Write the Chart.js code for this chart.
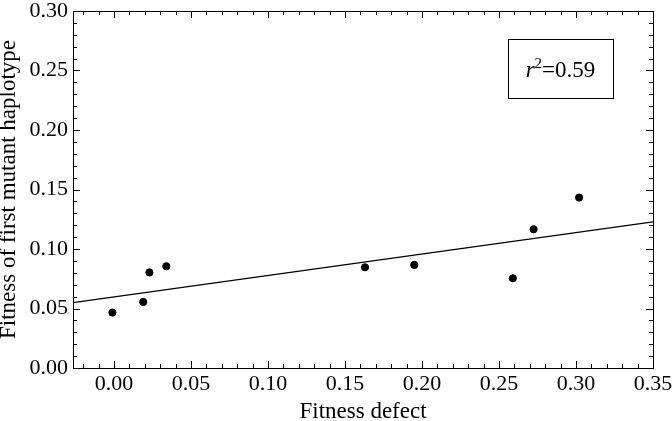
<!DOCTYPE html>
<html>
<head>
<meta charset="utf-8">
<script src="https://cdn.jsdelivr.net/npm/chart.js@4.4.1/dist/chart.umd.min.js"></script>
<style>
  body { margin: 0; background: #fff; }
</style>
</head>
<body>
<canvas id="myChart" width="672" height="421"></canvas>
<script>
// data
const defectX = [-0.001, 0.019, 0.023, 0.034, 0.163, 0.195, 0.259, 0.2725, 0.302];
const fitnessY = [0.0466, 0.0555, 0.0803, 0.0855, 0.0846, 0.0866, 0.0754, 0.1166, 0.1432];
const fitLineX = [-0.0266, 0.35];
const fitLineY = [0.055, 0.1228];
const rSquared = '0.59';

const points = defectX.map((x, i) => ({ x: x, y: fitnessY[i] }));
const linePts = fitLineX.map((x, i) => ({ x: x, y: fitLineY[i] }));

const serif = "'Liberation Serif', 'Times New Roman', serif";

function minorTicks(from, to) {
    const t = [];
    for (let i = from; i <= to; i++) t.push({ value: i / 100 });
    return t;
}

// frame with inward ticks on all four sides + the r^2 box
const framePlugin = {
    id: 'frame',
    afterDraw(chart) {
        const ctx = chart.ctx;
        const a = chart.chartArea;
        const xs = chart.scales.x, ys = chart.scales.y;
        ctx.save();
        ctx.strokeStyle = '#000';
        ctx.lineWidth = 1;
        ctx.strokeRect(a.left + 0.5, a.top + 0.5, a.right - a.left, a.bottom - a.top);
        ctx.beginPath();
        xs.ticks.forEach(t => {
            const px = Math.round(xs.getPixelForValue(t.value)) + 0.5;
            if (px < a.left + 1 || px > a.right - 1) return;
            const len = Math.round(t.value * 100) % 5 === 0 ? 7 : 4;
            ctx.moveTo(px, a.bottom); ctx.lineTo(px, a.bottom - len);
            ctx.moveTo(px, a.top); ctx.lineTo(px, a.top + len);
        });
        ys.ticks.forEach(t => {
            const py = Math.round(ys.getPixelForValue(t.value)) + 0.5;
            if (py < a.top + 1 || py > a.bottom - 1) return;
            const len = Math.round(t.value * 100) % 5 === 0 ? 7 : 4;
            ctx.moveTo(a.left, py); ctx.lineTo(a.left + len, py);
            ctx.moveTo(a.right, py); ctx.lineTo(a.right - len, py);
        });
        ctx.stroke();

        // r^2 box
        const bx = a.left + (a.right - a.left) * 0.75,
              by = a.top + (a.bottom - a.top) * 0.079;
        const bw = 105, bh = 59;
        ctx.strokeRect(Math.round(bx) + 0.5, Math.round(by) + 0.5, bw, bh);
        ctx.fillStyle = '#000';
        ctx.textBaseline = 'alphabetic';
        ctx.font = 'italic 23px ' + serif;
        const rw = ctx.measureText('r').width;
        ctx.font = '15px ' + serif;
        const sw = ctx.measureText('2').width;
        ctx.font = '23px ' + serif;
        const tw = ctx.measureText('=' + rSquared).width;
        let tx = bx + (bw - (rw + sw + tw)) / 2;
        const ty = by + bh / 2 + 8;
        ctx.font = 'italic 23px ' + serif;
        ctx.fillText('r', tx, ty);
        tx += rw;
        ctx.font = '15px ' + serif;
        ctx.fillText('2', tx, ty - 9);
        tx += sw;
        ctx.font = '23px ' + serif;
        ctx.fillText('=' + rSquared, tx, ty);
        ctx.restore();
    }
};

const config = {
    type: 'scatter',
    data: {
        datasets: [
            {
                label: 'data',
                data: points,
                backgroundColor: '#000',
                borderColor: '#000',
                pointRadius: 3.6,
                pointHoverRadius: 3.6,
            },
            {
                label: 'fit',
                type: 'line',
                data: linePts,
                borderColor: '#000',
                borderWidth: 1.3,
                pointRadius: 0,
                fill: false,
            },
        ]
    },
    options: {
        responsive: false,
        animation: false,
        layout: { padding: { top: 11, right: 19, left: 0, bottom: 0 } },
        plugins: {
            legend: { display: false },
            tooltip: { enabled: false },
        },
        scales: {
            x: {
                type: 'linear',
                min: -0.0266,
                max: 0.35,
                afterBuildTicks: s => { s.ticks = minorTicks(-2, 35); },
                afterFit: s => { s.height = 53; s.paddingLeft = 0; s.paddingRight = 0; },
                grid: { display: false, drawTicks: false },
                border: { display: false },
                ticks: {
                    autoSkip: false,
                    maxRotation: 0,
                    padding: 3,
                    color: '#000',
                    font: { family: serif, size: 22 },
                    callback: v => {
                        const i = Math.round(v * 100);
                        return (i % 5 === 0 && i >= 0) ? (i / 100).toFixed(2) : '';
                    }
                },
                title: {
                    display: true,
                    text: 'Fitness defect',
                    color: '#000',
                    font: { family: serif, size: 23 },
                    padding: { top: 0, bottom: -5 }
                }
            },
            y: {
                type: 'linear',
                min: 0,
                max: 0.3,
                afterBuildTicks: s => { s.ticks = minorTicks(0, 30); },
                afterFit: s => { s.width = 73; s.paddingTop = 0; s.paddingBottom = 0; },
                grid: { display: false, drawTicks: false },
                border: { display: false },
                ticks: {
                    autoSkip: false,
                    padding: 5,
                    color: '#000',
                    font: { family: serif, size: 22 },
                    callback: v => {
                        const i = Math.round(v * 100);
                        return i % 5 === 0 ? (i / 100).toFixed(2) : '';
                    }
                },
                title: {
                    display: true,
                    text: 'Fitness of first mutant haplotype',
                    color: '#000',
                    font: { family: serif, size: 23 },
                    padding: { top: -5, bottom: 0 }
                }
            }
        }
    },
    plugins: [framePlugin]
};

const myChart = new Chart(document.getElementById('myChart'), config);
</script>
</body>
</html>
